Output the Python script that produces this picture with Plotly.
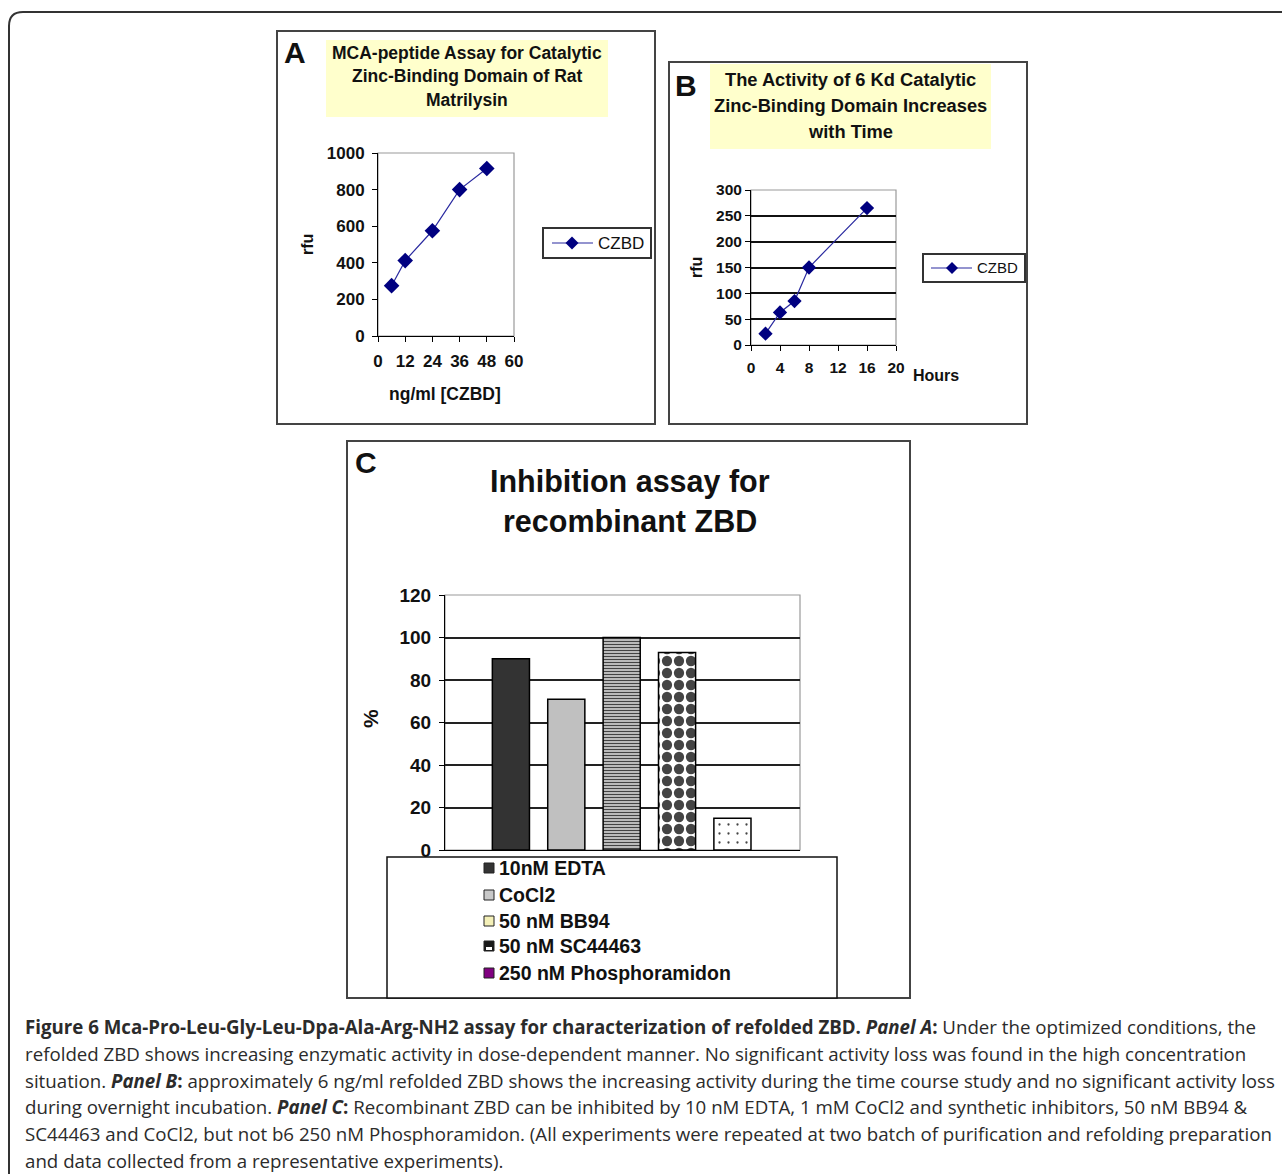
import plotly.graph_objects as go

W, H = 1282, 1174

def X(px):
    return px / W

def Y(py):
    return 1 - py / H

# ---------------- data ----------------
conc_ng_ml = [6, 12, 24, 36, 48]
rfu_conc = [275, 412, 575, 800, 915]

hours = [2, 4, 6, 8, 16]
rfu_time = [22, 63, 85, 150, 265]

treatments = ["10nM EDTA", "CoCl2", "50 nM BB94", "50 nM SC44463", "250 nM Phosphoramidon"]
percent = [90, 71, 100, 93, 15]

a_xticks = [0, 12, 24, 36, 48, 60]
a_yticks = [0, 200, 400, 600, 800, 1000]
b_xticks = [0, 4, 8, 12, 16, 20]
b_yticks = [0, 50, 100, 150, 200, 250, 300]
c_yticks = [0, 20, 40, 60, 80, 100, 120]
series_name = "CZBD"

FONT = "Liberation Sans, Arial, sans-serif"
CAP_FONT = "Open Sans, Noto Sans, sans-serif"
NAVY = "#000080"

fig = go.Figure()

# Panel A line
fig.add_trace(go.Scatter(
    x=conc_ng_ml, y=rfu_conc, mode="lines+markers", name=series_name,
    line=dict(color="#2a2aa0", width=1.2),
    marker=dict(symbol="diamond", size=12, color=NAVY),
    xaxis="x", yaxis="y", showlegend=False,
))
# Panel B line
fig.add_trace(go.Scatter(
    x=hours, y=rfu_time, mode="lines+markers", name=series_name,
    line=dict(color="#2a2aa0", width=1.2),
    marker=dict(symbol="diamond", size=11, color=NAVY),
    xaxis="x2", yaxis="y2", showlegend=False,
))
# Panel C bars
fig.add_trace(go.Bar(
    x=treatments, y=percent, width=0.67, showlegend=False,
    marker=dict(
        color=["#333333", "#C0C0C0", "#E2E2E2", "#FFFFFF", "#FFFFFF"],
        line=dict(color="#000000", width=1.5),
        pattern=dict(
            shape=["", "", "-", ".", "."],
            fgcolor=["#333333", "#C0C0C0", "#707070", "#000000", "#555555"],
            size=[8, 8, 3, 12, 9],
            solidity=[0.5, 0.5, 0.5, 0.58, 0.05],
            fillmode="overlay",
            fgopacity=1,
        ),
    ),
    xaxis="x3", yaxis="y3",
))

tickfont_a = dict(family=FONT, size=17, color="#111", weight="bold")
tickfont_b = dict(family=FONT, size=15.5, color="#111", weight="bold")
tickfont_c = dict(family=FONT, size=19, color="#111", weight="bold")

common_ax = dict(showline=True, linecolor="#000", linewidth=1, zeroline=False,
                 ticks="outside", ticklen=5, tickcolor="#000", fixedrange=True,
                 automargin=False)

fig.update_layout(
    width=W, height=H, autosize=False,
    margin=dict(l=0, r=0, t=0, b=0, pad=0),
    paper_bgcolor="white", plot_bgcolor="white",
    font=dict(family=FONT, color="#111"),
    barmode="overlay",
    showlegend=False,
    xaxis=dict(domain=[X(378), X(514)], range=[0, 60], tickvals=a_xticks,
               showgrid=False, tickfont=tickfont_a, anchor="y",
               ticklabelstandoff=5, **common_ax),
    yaxis=dict(domain=[Y(336), Y(153)], range=[0, 1000], tickvals=a_yticks,
               showgrid=False, tickfont=tickfont_a, anchor="x",
               ticklabelstandoff=4, **common_ax),
    xaxis2=dict(domain=[X(751), X(896)], range=[0, 20], tickvals=b_xticks,
                showgrid=False, tickfont=tickfont_b, anchor="y2",
                ticklabelstandoff=3, **common_ax),
    yaxis2=dict(domain=[Y(345), Y(190)], range=[0, 300], tickvals=b_yticks,
                showgrid=True, gridcolor="#111", gridwidth=1.5,
                tickfont=tickfont_b, anchor="x2", **common_ax),
    xaxis3=dict(domain=[X(445), X(800)], range=[-1.19, 5.22], showticklabels=False,
                showgrid=False, anchor="y3", showline=True, linecolor="#000",
                zeroline=False, ticks="", fixedrange=True, automargin=False),
    yaxis3=dict(domain=[Y(850), Y(595)], range=[0, 120], tickvals=c_yticks,
                showgrid=True, gridcolor="#222", gridwidth=1.5,
                tickfont=tickfont_c, anchor="x3", ticklabelstandoff=4, **common_ax),
)

shapes = []

def rect(x0, y0, x1, y1, line_color="#444", lw=2, fill=None, layer="above"):
    d = dict(type="rect", xref="paper", yref="paper",
             x0=X(x0), x1=X(x1), y0=Y(y1), y1=Y(y0), layer=layer,
             line=dict(color=line_color, width=lw))
    if fill:
        d["fillcolor"] = fill
    if lw == 0:
        d["line"] = dict(width=0)
    return d

def diamond(cx, cy, r, color=NAVY):
    return dict(type="path", xref="paper", yref="paper",
                path=(f"M {X(cx)},{Y(cy - r)} L {X(cx + r)},{Y(cy)} "
                      f"L {X(cx)},{Y(cy + r)} L {X(cx - r)},{Y(cy)} Z"),
                fillcolor=color, line=dict(width=0))

def hline(x0, x1, y, color="#2a2aa0", lw=1.2):
    return dict(type="line", xref="paper", yref="paper",
                x0=X(x0), x1=X(x1), y0=Y(y), y1=Y(y), line=dict(color=color, width=lw))

# outer rounded frame
shapes.append(dict(type="path", xref="paper", yref="paper",
                   path=f"M {X(9)},{Y(1200)} L {X(9)},{Y(26)} Q {X(9)},{Y(12)} {X(23)},{Y(12)} L {X(1300)},{Y(12)}",
                   line=dict(color="#333", width=2)))
# panel frames
shapes.append(rect(277, 31, 655, 424))
shapes.append(rect(669, 62, 1027, 424))
shapes.append(rect(347, 441, 910, 998))
# yellow title boxes
shapes.append(rect(326, 40, 608, 117, lw=0, fill="#FFFFCC", layer="below"))
shapes.append(rect(710, 64, 991, 149, lw=0, fill="#FFFFCC", layer="below"))
# plot-area borders (gray)
for xr, yr in [("x", "y"), ("x2", "y2"), ("x3", "y3")]:
    shapes.append(dict(type="rect", xref=f"{xr} domain", yref=f"{yr} domain",
                       x0=0, x1=1, y0=0, y1=1, layer="below",
                       line=dict(color="#9a9a9a", width=1.2)))
# legends for A and B (drawn)
shapes.append(rect(543, 228, 651, 258, line_color="#333", lw=2, fill="white"))
shapes.append(hline(552, 593, 243))
shapes.append(diamond(572, 243, 6.5))
shapes.append(rect(923, 254, 1025, 282, line_color="#333", lw=2, fill="white"))
shapes.append(hline(931, 972, 268))
shapes.append(diamond(952, 268, 6))
# panel C legend
shapes.append(rect(387, 857, 837, 998, line_color="#111", lw=1.5, fill="white"))
swatch_fill = ["#333333", "#C8C8C8", "#F4F0B8", "#1a1a1a", "#800080"]
item_y = [868, 895, 921, 946, 973]
for f, yy in zip(swatch_fill, item_y):
    shapes.append(rect(484, yy - 5, 494, yy + 5, line_color="#222", lw=1, fill=f))
# white lower part of SC44463 swatch
shapes.append(rect(486, 947, 492, 950, lw=0, fill="white"))
fig.update_layout(shapes=shapes)

ann = []

def text(x, y, s, size, weight="bold", xanchor="center", angle=0, color="#111", family=FONT):
    ann.append(dict(x=X(x), y=Y(y), xref="paper", yref="paper", text=s,
                    showarrow=False, xanchor=xanchor, yanchor="middle", textangle=angle,
                    borderpad=0, font=dict(family=family, size=size, color=color, weight=weight)))

# panel letters
text(295, 53, "A", 30)
text(686, 85, "B", 30)
text(366, 463, "C", 30)
# panel A titles
for s, yy in zip(["MCA-peptide Assay for Catalytic", "Zinc-Binding Domain of Rat", "Matrilysin"], [53, 76, 100]):
    text(467, yy, s, 17.5)
text(307, 245, "rfu", 16, angle=-90)
text(445, 394, "ng/ml [CZBD]", 17.5)
text(597, 243, series_name, 17, weight="normal", xanchor="left")
# panel B titles
for s, yy in zip(["The Activity of 6 Kd Catalytic", "Zinc-Binding Domain Increases", "with Time"], [79, 105, 131]):
    text(850, yy, s, 18.3)
text(697, 268, "rfu", 16, angle=-90)
text(936, 375, "Hours", 16)
text(976, 268, series_name, 15, weight="normal", xanchor="left")
# panel C titles
text(630, 481, "Inhibition assay for", 30.5)
text(630, 521, "recombinant ZBD", 30.5)
text(370, 718, "%", 21, angle=-90)
for s, yy in zip(treatments, item_y):
    text(498, yy, s, 19.5, xanchor="left")

# caption
caption_lines = [
    "<b>Figure 6 Mca-Pro-Leu-Gly-Leu-Dpa-Ala-Arg-NH2 assay for characterization of refolded ZBD.</b> <b><i>Panel A</i>:</b> Under the optimized conditions, the",
    "refolded ZBD shows increasing enzymatic activity in dose-dependent manner. No significant activity loss was found in the high concentration",
    "situation. <b><i>Panel B</i>:</b> approximately 6 ng/ml refolded ZBD shows the increasing activity during the time course study and no significant activity loss",
    "during overnight incubation. <b><i>Panel C</i>:</b> Recombinant ZBD can be inhibited by 10 nM EDTA, 1 mM CoCl2 and synthetic inhibitors, 50 nM BB94 &amp;",
    "SC44463 and CoCl2, but not b6 250 nM Phosphoramidon. (All experiments were repeated at two batch of purification and refolding preparation",
    "and data collected from a representative experiments).",
]
for s, yy in zip(caption_lines, [1026, 1053, 1080, 1106, 1133, 1160]):
    text(24, yy, s, 18.7, weight="normal", xanchor="left", color="#2b2b2b", family=CAP_FONT)

fig.update_layout(annotations=ann)

fig.write_html("out.html", config={"displayModeBar": False},
               post_script="document.body.style.margin='0px';document.documentElement.style.margin='0px';")
